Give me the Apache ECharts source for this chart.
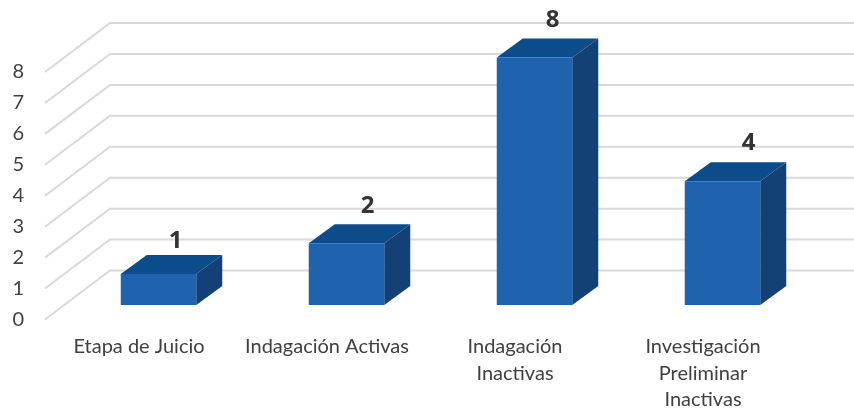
<!DOCTYPE html>
<html>
<head>
<meta charset="utf-8">
<style>
  html, body { margin: 0; padding: 0; background: #fff; }
  #chart { width: 854px; height: 413px; }
</style>
</head>
<body>
<div id="chart"></div>
<script src="https://cdn.jsdelivr.net/npm/echarts@6/dist/echarts.min.js"></script>
<script>
var categories = ["Etapa de Juicio", "Indagación Activas", "Indagación\nInactivas", "Investigación\nPreliminar\nInactivas"];
var values = [1, 2, 8, 4];
var yTicks = [0, 1, 2, 3, 4, 5, 6, 7, 8];

// the value labels were placed by hand in the original
var labelNudge = [[-1, 5], [3, 1], [0, 1], [8, 0]];

var barWidth = 75.5;
var frontX = 19.5, frontY = -14.5; // bar front plane, from the axis plane
var depthX = 26, depthY = -19;     // bar depth
var wallX = 65, wallY = -49;       // back wall, from the axis plane

var myChart = echarts.init(document.getElementById("chart"), null, { renderer: "canvas" });

// 折线网格: diagonal on the side wall, then along the back wall
function renderGrid(params, api) {
  var y = api.coord([0, api.value(1)])[1];
  var x0 = params.coordSys.x;
  return {
    type: "polyline",
    shape: { points: [[x0, y], [x0 + wallX, y + wallY], [api.getWidth(), y + wallY]] },
    style: { stroke: "#d9d9d9", lineWidth: 2, fill: null }
  };
}

function renderBar(params, api) {
  var top = api.coord([api.value(0), api.value(1)]);
  var base = api.coord([api.value(0), 0]);
  var l = top[0] + frontX - barWidth / 2;
  var r = l + barWidth;
  var t = top[1] + frontY;
  var b = base[1] + frontY;
  var nudge = labelNudge[params.dataIndex];
  return {
    type: "group",
    children: [
      {
        type: "polygon",
        shape: { points: [[r, t], [r + depthX, t + depthY], [r + depthX, b + depthY], [r, b]] },
        style: { fill: "#134175" }
      },
      {
        type: "polygon",
        shape: { points: [[l, t], [l + depthX, t + depthY], [r + depthX, t + depthY], [r, t]] },
        style: { fill: "#0d4c8a" }
      },
      {
        type: "rect",
        shape: { x: l, y: t, width: barWidth, height: b - t },
        style: { fill: "#1f62ae" }
      },
      {
        type: "text",
        style: {
          x: l + barWidth / 2 + 18 + nudge[0],
          y: t + depthY - 19 + nudge[1],
          text: String(api.value(1)),
          fill: "#333333",
          font: 'bold 24px "Open Sans"',
          textAlign: "center",
          textVerticalAlign: "middle"
        }
      }
    ]
  };
}

var option = {
  animation: false,
  grid: { left: 45, top: 72, width: 752, height: 248 },
  xAxis: {
    type: "category",
    data: categories,
    axisLine: { show: false },
    axisTick: { show: false },
    axisLabel: {
      interval: 0,
      margin: 14,
      color: "#404040",
      fontFamily: "Lato",
      fontSize: 20,
      lineHeight: 26.5
    }
  },
  yAxis: {
    type: "value",
    min: 0,
    max: 8,
    interval: 1,
    axisLine: { show: false },
    axisTick: { show: false },
    splitLine: { show: false },
    axisLabel: {
      margin: 21,
      color: "#404040",
      fontFamily: "Lato",
      fontSize: 20
    }
  },
  series: [
    {
      name: "grid",
      type: "custom",
      silent: true,
      z: 1,
      renderItem: renderGrid,
      encode: { x: 0, y: 1 },
      data: yTicks.map(function(t) { return [0, t]; })
    },
    {
      name: "casos",
      type: "custom",
      z: 2,
      renderItem: renderBar,
      encode: { x: 0, y: 1 },
      data: values.map(function(v, i) { return [i, v]; })
    }
  ]
};
myChart.setOption(option);
</script>
</body>
</html>
